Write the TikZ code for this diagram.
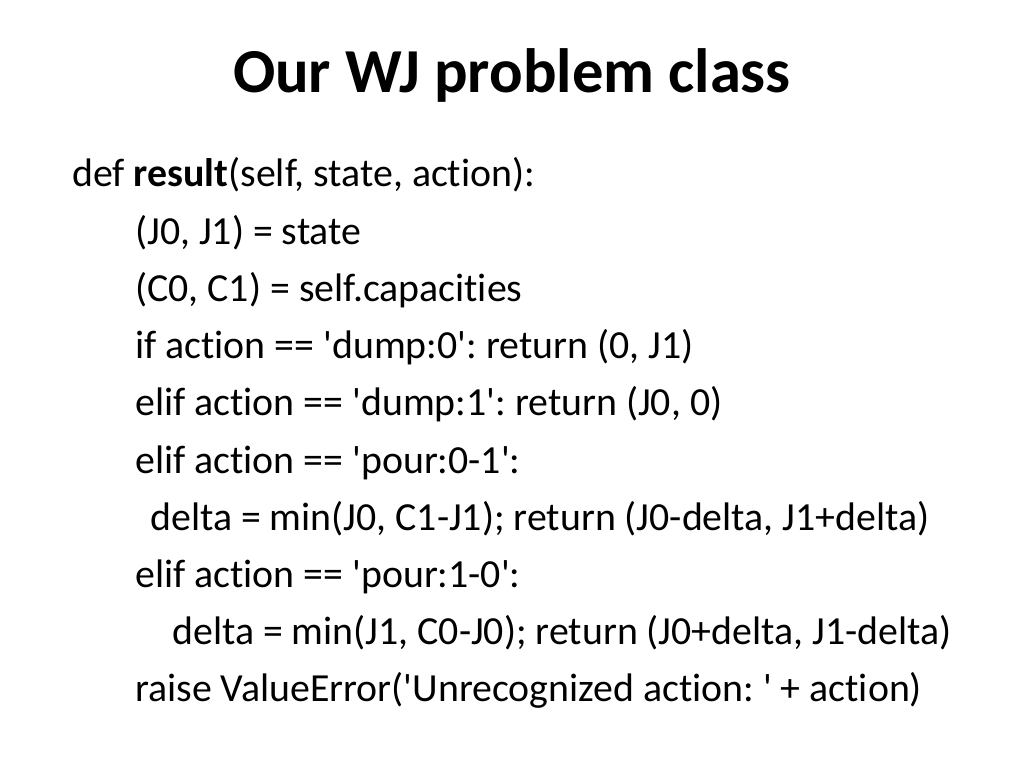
\documentclass[tikz,border=0pt]{standalone}
\usepackage{fontspec}
\newfontfamily\slidefont[Ligatures=NoCommon]{Carlito}
\frenchspacing

\tikzset{
  slidetitle/.style={anchor=base, inner sep=0pt, font=\slidefont\bfseries\fontsize{44}{53}\selectfont},
  codeline/.style={anchor=base west, inner sep=0pt, font=\slidefont\fontsize{28}{34}\selectfont}
}

\begin{document}
\begin{tikzpicture}[x=0.703125pt,y=-0.703125pt]
\useasboundingbox[fill=white] (0,0) rectangle (1024,768);

% title
\node[slidetitle] (title) at (512,93) {Our WJ problem class};

% code lines
\foreach \n/\x/\t in {1/72/{def \textbf{result}(self, state, action):},
                      2/135/{(J0, J1) = state},
                      3/135/{(C0, C1) = self.capacities},
                      4/135/{if action == 'dump:0': return (0, J1)},
                      5/135/{elif action == 'dump:1': return (J0, 0)},
                      6/135/{elif action == 'pour:0-1':},
                      7/150/{delta = min(J0, C1-J1); return (J0-delta, J1+delta)},
                      8/135/{elif action == 'pour:1-0':},
                      9/172/{delta = min(J1, C0-J0); return (J0+delta, J1-delta)},
                      10/135/{raise ValueError('Unrecognized action: ' + action)}}
  {
    \node[codeline] (line\n) at (\x,{187+(\n-1)*57.2}) {\t};
  }
\end{tikzpicture}
\end{document}
